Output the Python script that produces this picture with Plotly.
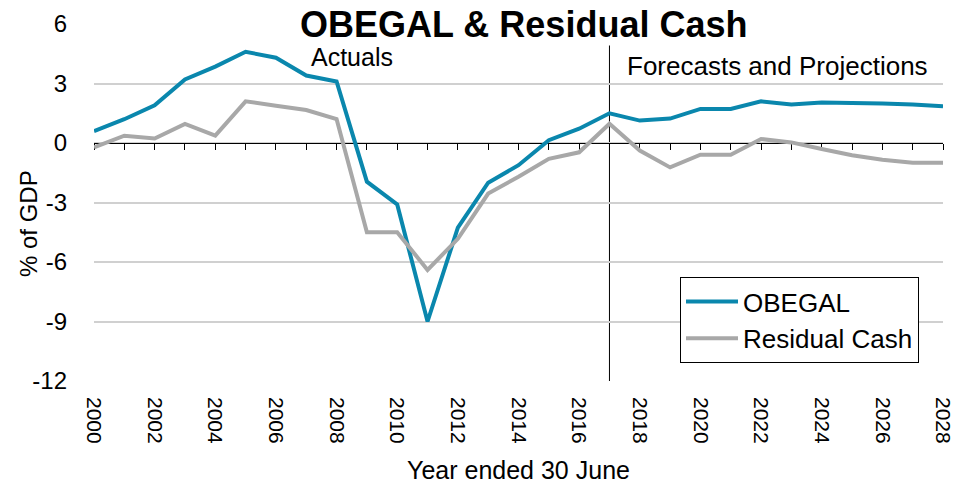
import plotly.graph_objects as go

years = list(range(2000, 2029))
obegal = [0.6, 1.2, 1.9, 3.2, 3.85, 4.6, 4.3, 3.4, 3.1, -1.95, -3.1, -9.0, -4.27, -2.0, -1.12,
          0.14, 0.72, 1.5, 1.13, 1.23, 1.72, 1.72, 2.1, 1.94, 2.04, 2.04, 1.99, 1.94, 1.85]
residual_cash = [-0.22, 0.37, 0.23, 0.96, 0.37, 2.1, 1.88, 1.66, 1.21, -4.5, -4.5, -6.4, -4.83, -2.55, -1.7,
                 -0.8, -0.47, 0.97, -0.38, -1.23, -0.59, -0.59, 0.2, 0.03, -0.3, -0.62, -0.84, -1.0, -1.0]
forecast_start = 2017
y_ticks = [6, 3, 0, -3, -6, -9, -12]
x_ticks = list(range(2000, 2029, 2))

FONT = "Liberation Sans, Arial, sans-serif"
BLUE = "#0A87AD"
GREY = "#A8A8A8"

fig = go.Figure()
fig.add_trace(go.Scatter(x=years, y=obegal, name="OBEGAL", mode="lines",
                         line=dict(color=BLUE, width=4)))
fig.add_trace(go.Scatter(x=years, y=residual_cash, name="Residual Cash", mode="lines",
                         line=dict(color=GREY, width=4)))
# invisible trace so the zero axis (x2) is drawn
fig.add_trace(go.Scatter(x=years, y=obegal, xaxis="x2", mode="lines", line=dict(width=0),
                         showlegend=False, hoverinfo="skip"))

y_min, y_max = -12, 6
fig.update_layout(
    width=954, height=484,
    margin=dict(l=94, r=11, t=24, b=103),
    paper_bgcolor="white", plot_bgcolor="white",
    font=dict(family=FONT, color="black", size=20),
    showlegend=True,
    legend=dict(x=(680 - 94) / 849, y=(381 - 277) / 357, xanchor="left", yanchor="top",
                bordercolor="black", borderwidth=1, bgcolor="white",
                font=dict(size=26), itemwidth=52, tracegroupgap=0),
    xaxis=dict(range=[2000, 2028], tickvals=x_ticks, ticktext=[str(v) for v in x_ticks],
               tickangle=90, showgrid=False, zeroline=False, showline=False, ticks="",
               tickfont=dict(size=21), automargin=False, ticklabelstandoff=15,
               ticklabeloverflow="allow",
               title=dict(text="Year ended 30 June", font=dict(size=25), standoff=18)),
    xaxis2=dict(range=[2000, 2028], overlaying="x", anchor="free",
                position=(0 - y_min) / (y_max - y_min), side="bottom",
                showline=True, linecolor="black", linewidth=1, ticks="outside", ticklen=6,
                tickcolor="black", dtick=1, tick0=2000, showticklabels=False,
                showgrid=False, zeroline=False, layer="below traces"),
    yaxis=dict(range=[y_min, y_max], tickvals=y_ticks, ticktext=[str(v) for v in y_ticks],
               showgrid=True, gridcolor="#D0D0D0",
               gridwidth=1.5, zeroline=False, showline=False, ticks="", ticklabelstandoff=26,
               tickfont=dict(size=24), automargin=False),
)

fig.add_shape(type="line", xref="x", yref="y", x0=forecast_start, x1=forecast_start,
              y0=y_min, y1=4.95, line=dict(color="black", width=1), layer="below")

fig.add_annotation(text="% of GDP", xref="paper", yref="paper", textangle=-90,
                   x=(28 - 94) / 849, y=(381 - 224) / 357, xanchor="center", yanchor="middle",
                   showarrow=False, font=dict(size=24))
fig.add_annotation(text="<b>OBEGAL & Residual Cash</b>", xref="paper", yref="paper",
                   x=(523 - 94) / 849, y=(381 - 24) / 357, xanchor="center", yanchor="middle",
                   showarrow=False, font=dict(size=36), bgcolor="white", borderpad=0)
fig.add_annotation(text="Actuals", xref="x", yref="y", x=2007.1, y=4.35, xanchor="left",
                   yanchor="middle", showarrow=False, font=dict(size=25))
fig.add_annotation(text="Forecasts and Projections", xref="x", yref="y", x=2017.5, y=3.9,
                   xanchor="left", yanchor="middle", showarrow=False, font=dict(size=26))

fig.write_html("out.html", config={"displayModeBar": False},
               post_script="document.body.style.margin='0';")
